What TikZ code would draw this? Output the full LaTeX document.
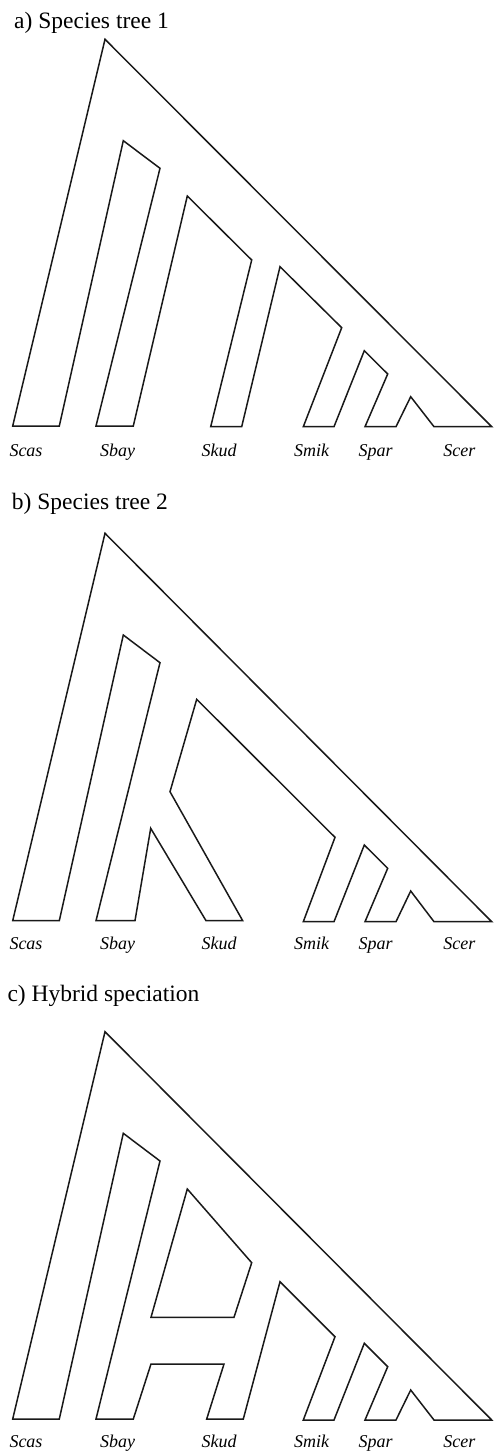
\documentclass[tikz,border=0pt]{standalone}
\usepackage{fontspec}
\setmainfont{Liberation Serif}
\begin{document}
\begin{tikzpicture}[x=1pt,y=-1pt,
  tube/.style={draw=black!90,line width=1.5pt,line join=miter},
  ttl/.style={anchor=base west,inner sep=0pt,font=\fontsize{23.5}{28}\selectfont},
  taxon/.style={anchor=base,inner sep=0pt,font=\fontsize{18}{20}\selectfont\itshape}]
\useasboundingbox (0,0) rectangle (493,1453);
% ---------- a) ----------
\node[ttl] (ta) at (14,28.5) {a) Species tree 1};
\draw[tube] (12.7,426)--(105,39.3)--(491.7,426.7)--(434,426.7)--(410.7,396.7)--(396,426.7)
  --(365,426.7)--(387.7,374)--(364.3,350.7)--(334,426.7)--(303.3,426.7)--(341.7,327.7)
  --(280,266.7)--(241.7,426.7)--(210.7,426.7)--(251.7,260)--(187.3,196)--(133.3,426)
  --(96,426)--(160,168.3)--(123.3,140.7)--(59.3,426)--cycle;
\node[taxon] (a1) at (26,456) {Scas};
\node[taxon] (a2) at (117.7,456) {Sbay};
\node[taxon] (a3) at (219,456) {Skud};
\node[taxon] (a4) at (311.7,456) {Smik};
\node[taxon] (a5) at (375.7,456) {Spar};
\node[taxon] (a6) at (459.3,456) {Scer};
% ---------- b) ----------
\node[ttl] (tb) at (11.7,509.5) {b) Species tree 2};
\draw[tube] (12.7,920.7)--(105,533.3)--(491.7,921.7)--(434,921.7)--(410.7,891)--(396,921.7)
  --(365,921.7)--(387.7,868.3)--(364.3,845)--(334,921.7)--(303.3,921.7)--(335,837.3)
  --(196.7,699.3)--(170,791.7)--(242.7,920.7)--(206,920.7)--(150.7,828.3)--(135,920.7)
  --(96,920.7)--(160,662.7)--(123.3,635)--(59.3,920.7)--cycle;
\node[taxon] (b1) at (26,949) {Scas};
\node[taxon] (b2) at (117.7,949) {Sbay};
\node[taxon] (b3) at (219,949) {Skud};
\node[taxon] (b4) at (311.7,949) {Smik};
\node[taxon] (b5) at (375.7,949) {Spar};
\node[taxon] (b6) at (459.3,949) {Scer};
% ---------- c) ----------
\node[ttl] (tc) at (7.3,1001.7) {c) Hybrid speciation};
\draw[tube] (12.7,1419)--(105,1031.7)--(491.7,1420)--(434,1420)--(410.7,1390)--(396,1420)
  --(365,1420)--(387.7,1366.7)--(364.3,1343.3)--(334,1420)--(303.3,1420)--(335,1336.7)
  --(280,1281.7)--(243.3,1419)--(206.7,1419)--(224,1364)--(151,1364)--(133.3,1419)
  --(96,1419)--(160,1161)--(123.3,1133.3)--(59.3,1419)--cycle;
\draw[tube] (187.3,1189)--(251.7,1262.7)--(234,1317.3)--(151,1317.3)--cycle;
\node[taxon] (c1) at (26,1447) {Scas};
\node[taxon] (c2) at (117.7,1447) {Sbay};
\node[taxon] (c3) at (219,1447) {Skud};
\node[taxon] (c4) at (311.7,1447) {Smik};
\node[taxon] (c5) at (375.7,1447) {Spar};
\node[taxon] (c6) at (459.3,1447) {Scer};
\end{tikzpicture}
\end{document}
